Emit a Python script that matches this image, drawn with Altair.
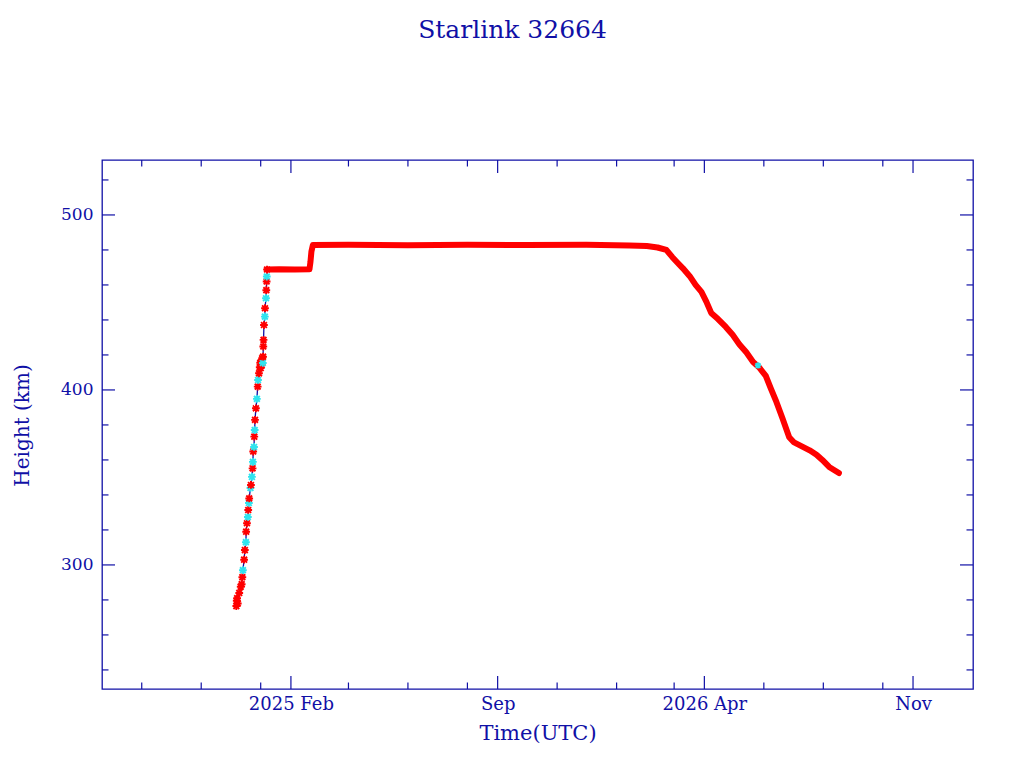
import altair as alt
import pandas as pd

NAVY = "#1010a6"
RED = "#ff0000"
CYAN = "#30e4ee"
FONT = "DejaVu Serif"

# ---- ascent (individual observations) ----
asc_t = [
    "2024-12-07T00:00Z", "2024-12-07T10:00Z", "2024-12-07T20:00Z", "2024-12-08T12:00Z",
    "2024-12-10T00:00Z", "2024-12-11T12:00Z", "2024-12-12T12:00Z", "2024-12-13T04:00Z",
    "2024-12-13T18:00Z", "2024-12-15T00:00Z", "2024-12-15T18:00Z", "2024-12-16T20:00Z",
    "2024-12-17T02:00Z", "2024-12-17T22:00Z", "2024-12-18T20:00Z", "2024-12-19T05:00Z",
    "2024-12-19T22:00Z", "2024-12-20T05:00Z", "2024-12-21T12:00Z", "2024-12-22T00:00Z",
    "2024-12-23T00:00Z", "2024-12-23T16:00Z", "2024-12-24T00:00Z", "2024-12-24T08:00Z",
    "2024-12-25T04:00Z", "2024-12-25T10:00Z", "2024-12-25T20:00Z", "2024-12-26T04:00Z",
    "2024-12-27T02:00Z", "2024-12-28T02:00Z", "2024-12-28T22:00Z", "2024-12-29T06:00Z",
    "2024-12-30T06:00Z", "2024-12-31T00:00Z", "2024-12-31T12:00Z", "2025-01-01T00:00Z",
    "2025-01-01T12:00Z", "2025-01-02T00:00Z", "2025-01-02T12:00Z", "2025-01-03T04:00Z",
    "2025-01-03T10:00Z", "2025-01-03T16:00Z", "2025-01-03T22:00Z", "2025-01-04T08:00Z",
    "2025-01-05T06:00Z", "2025-01-05T10:00Z", "2025-01-06T10:00Z", "2025-01-06T18:00Z",
    "2025-01-07T02:00Z", "2025-01-07T06:00Z", "2025-01-07T12:00Z",
]
asc_h = [
    276.5, 279.5, 281.0, 278.0,
    284.0, 287.5, 289.0, 293.0,
    297.0, 303.0, 308.5, 313.0,
    319.0, 323.8, 327.4, 331.4,
    335.4, 338.0, 344.0, 345.7,
    350.3, 355.2, 358.9, 364.8,
    367.4, 373.3, 377.1, 382.9,
    389.5, 394.9, 401.9, 405.7,
    409.5, 413.0, 415.5, 412.5,
    416.0, 414.3, 418.1, 415.4,
    419.0, 424.8, 428.6, 437.1,
    441.9, 446.7, 452.4, 457.0,
    462.0, 464.8, 468.8,
]
asc_c = [
    "r", "r", "r", "r",
    "r", "r", "r", "r",
    "c", "r", "r", "c",
    "r", "r", "c", "r",
    "c", "r", "c", "r",
    "c", "r", "c", "r",
    "c", "r", "c", "r",
    "r", "c", "r", "c",
    "r", "r", "r", "r",
    "r", "r", "r", "c",
    "r", "r", "r", "r",
    "c", "r", "c", "r",
    "r", "c", "r",
]

# ---- dense observations (drawn as a thick band) ----
band_t = [
    "2025-01-07T12:00Z", "2025-01-20T00:00Z", "2025-02-05T00:00Z", "2025-02-20T00:00Z",
    "2025-02-21T00:00Z", "2025-02-22T00:00Z", "2025-02-23T12:00Z", "2025-04-01T00:00Z",
    "2025-06-01T00:00Z", "2025-08-01T00:00Z", "2025-10-01T00:00Z", "2025-12-01T00:00Z",
    "2026-01-14T00:00Z", "2026-02-01T00:00Z", "2026-02-12T00:00Z", "2026-02-21T00:00Z",
    "2026-02-27T00:00Z", "2026-03-04T00:00Z", "2026-03-10T00:00Z", "2026-03-17T00:00Z",
    "2026-03-23T00:00Z", "2026-03-29T00:00Z", "2026-04-03T00:00Z", "2026-04-08T00:00Z",
    "2026-04-15T00:00Z", "2026-04-23T00:00Z", "2026-04-30T00:00Z", "2026-05-07T00:00Z",
    "2026-05-14T00:00Z", "2026-05-21T00:00Z", "2026-05-27T00:00Z", "2026-06-03T00:00Z",
    "2026-06-08T00:00Z", "2026-06-14T00:00Z", "2026-06-20T00:00Z", "2026-06-27T00:00Z",
    "2026-07-02T00:00Z", "2026-07-11T00:00Z", "2026-07-18T00:00Z", "2026-07-25T00:00Z",
    "2026-07-31T00:00Z", "2026-08-07T00:00Z", "2026-08-17T00:00Z",
]
band_h = [
    468.8, 468.9, 468.8, 468.9,
    473.0, 479.0, 482.8, 482.9,
    482.7, 482.9, 482.8, 482.9,
    482.5, 482.2, 481.4, 480.0,
    476.0, 473.0, 469.5, 465.0,
    460.0, 456.0, 450.5, 444.0,
    440.5, 436.0, 431.5, 426.0,
    421.5, 416.0, 413.0, 408.0,
    401.0, 393.0, 384.0, 373.0,
    370.0, 367.5, 365.5, 363.0,
    360.0, 356.0, 352.5,
]
extra_t = ["2026-05-26T00:00Z"]
extra_h = [414.0]
extra_c = ["c"]

# ---- axes ----
x_major = ["2025-02-01T00:00Z", "2025-09-01T00:00Z", "2026-04-01T00:00Z", "2026-11-01T00:00Z"]
x_major_labels = ["2025 Feb", "Sep", "2026 Apr", "Nov"]
x_minor = ["2024-09-01T00:00Z", "2024-11-01T00:00Z", "2025-01-01T00:00Z",
           "2025-04-01T00:00Z", "2025-06-01T00:00Z", "2025-08-01T00:00Z",
           "2025-11-01T00:00Z", "2026-01-01T00:00Z", "2026-03-01T00:00Z",
           "2026-06-01T00:00Z", "2026-08-01T00:00Z", "2026-10-01T00:00Z"]
y_major = [300, 400, 500]
y_minor = [240, 260, 280, 320, 340, 360, 380, 420, 440, 460, 480, 520]
x_domain = ["2024-07-22T06:00Z", "2027-01-01T12:00Z"]
y_domain = [229.1, 531.4]

W, H = 871, 529


def dt(s):
    ts = pd.Timestamp(s)
    return alt.DateTime(year=ts.year, month=ts.month, date=ts.day, hours=ts.hour, utc=True)


label_expr = "''"
for d, lab in reversed(list(zip(x_major, x_major_labels))):
    key = pd.Timestamp(d).strftime("%Y-%m-%d")
    label_expr = f"utcFormat(datum.value, '%Y-%m-%d') == '{key}' ? '{lab}' : ({label_expr})"

x_axis = alt.Axis(
    values=[dt(v) for v in x_major], labelExpr=label_expr, ticks=False, domain=False,
    grid=False, labelFont=FONT, labelFontSize=18, labelColor=NAVY, labelPadding=6,
    labelFlush=False, labelOverlap=False,
    title="Time(UTC)", titleFont=FONT, titleFontSize=21, titleFontWeight="normal",
    titleColor=NAVY, titleBaseline="middle", titleY=44,
)
y_axis = alt.Axis(
    values=y_major, ticks=False, domain=False, grid=False, labelFont=FONT,
    labelFontSize=17, labelColor=NAVY, labelPadding=9, labelBaseline="middle",
    title="Height (km)", titleFont=FONT, titleFontSize=20, titleFontWeight="normal",
    titleColor=NAVY, titleBaseline="middle", titleAlign="center", titleAngle=270,
    titleX=-80, titleY=265,
)
xs = alt.Scale(type="utc", domain=[dt(v) for v in x_domain], nice=False)
ys = alt.Scale(domain=y_domain, nice=False, zero=False)
X = alt.X("t:T", scale=xs, axis=x_axis)
Y = alt.Y("h:Q", scale=ys, axis=y_axis)

df_asc = pd.DataFrame({"t": asc_t, "h": asc_h, "c": asc_c})
df_band = pd.DataFrame({"t": band_t, "h": band_h})
df_extra = pd.DataFrame({"t": extra_t, "h": extra_h, "c": extra_c})
df_path = pd.concat([df_asc[["t", "h"]], df_band]).reset_index(drop=True)

ASTER = "M-1,0L1,0M0,-1L0,1M-0.75,-0.75L0.75,0.75M-0.75,0.75L0.75,-0.75"
col = alt.Color("c:N", scale=alt.Scale(domain=["r", "c"], range=[RED, CYAN]), legend=None)

path = alt.Chart(df_path).mark_line(color=NAVY, strokeWidth=1.3).encode(x=X, y=Y)
band = alt.Chart(df_band).mark_line(
    color=RED, strokeWidth=6, strokeCap="round", strokeJoin="round"
).encode(x=X, y=Y)
marks = alt.Chart(df_asc).mark_point(
    shape=ASTER, filled=False, strokeWidth=1.9, size=60, opacity=1
).encode(x=X, y=Y, color=col)
extra = alt.Chart(df_extra).mark_point(
    shape=ASTER, filled=False, strokeWidth=1.7, size=40, opacity=1
).encode(x=X, y=Y, color=col)

df_xmaj = pd.DataFrame({"t": x_major})
df_xmin = pd.DataFrame({"t": x_minor})
df_ymaj = pd.DataFrame({"h": y_major})
df_ymin = pd.DataFrame({"h": y_minor})

MAJ, MIN = 13, 6.5
tick_layers = []
for df, L in ((df_xmaj, MAJ), (df_xmin, MIN)):
    tick_layers.append(alt.Chart(df).mark_rule(color=NAVY, strokeWidth=1.2).encode(
        x=X, y=alt.value(H), y2=alt.value(H - L)))
    tick_layers.append(alt.Chart(df).mark_rule(color=NAVY, strokeWidth=1.2).encode(
        x=X, y=alt.value(0), y2=alt.value(L)))
for df, L in ((df_ymaj, MAJ), (df_ymin, MIN)):
    tick_layers.append(alt.Chart(df).mark_rule(color=NAVY, strokeWidth=1.2).encode(
        y=Y, x=alt.value(0), x2=alt.value(L)))
    tick_layers.append(alt.Chart(df).mark_rule(color=NAVY, strokeWidth=1.2).encode(
        y=Y, x=alt.value(W), x2=alt.value(W - L)))

chart = alt.layer(path, band, marks, extra, *tick_layers).properties(
    width=W, height=H,
    title=alt.TitleParams(
        "Starlink 32664", font=FONT, fontSize=25, fontWeight="normal", color=NAVY,
        anchor="middle", dx=-25, offset=96, baseline="alphabetic",
    ),
    padding={"left": 94, "top": 152, "right": 20, "bottom": 70},
    autosize=alt.AutoSizeParams(type="none"),
).configure_view(stroke=NAVY, strokeWidth=1.3)

chart.save("out.html", embed_options={"renderer": "svg", "actions": False})
